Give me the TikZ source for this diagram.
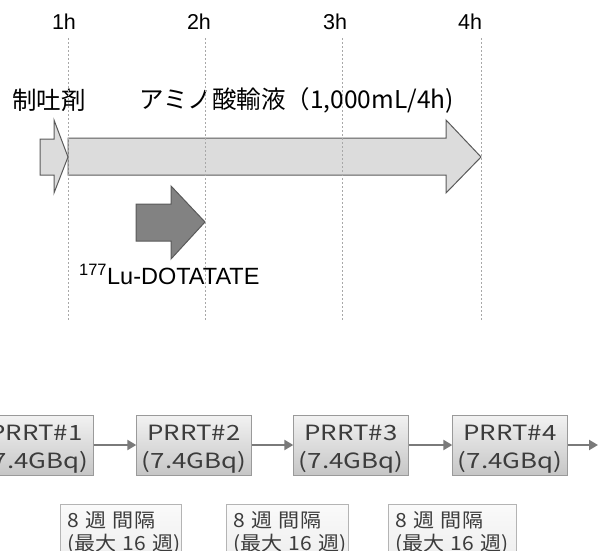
\documentclass[tikz,border=0pt]{standalone}
\usepackage{fontspec}
\setmainfont{Liberation Sans}
\newfontfamily\jp{Noto Sans CJK JP}
\newfontfamily\jpwide[FakeStretch=1.23]{Noto Sans CJK JP}
\newfontfamily\jpweek[FakeStretch=1.08]{Noto Sans CJK JP}
\usetikzlibrary{arrows.meta}
\definecolor{guide}{HTML}{A8A8A8}
\definecolor{lightfill}{HTML}{DCDCDC}
\definecolor{darkfill}{HTML}{828282}
\definecolor{edge}{HTML}{5A5A5A}
\definecolor{boxtop}{HTML}{F2F2F2}
\definecolor{boxbot}{HTML}{C6C6C6}
\definecolor{boxedge}{HTML}{9A9A9A}
\definecolor{weektop}{HTML}{FAFAFA}
\definecolor{weekbot}{HTML}{EEEEEE}
\definecolor{weekedge}{HTML}{B4B4B4}
\definecolor{txt}{HTML}{3C3C3C}
\definecolor{linkcol}{HTML}{7A7A7A}
\newcommand{\toppad}{\rule{0pt}{24pt}}
\begin{document}
\begin{tikzpicture}[x=1pt,y=-1pt,
  hour/.style={font=\fontsize{21.5}{25}\selectfont, inner sep=0pt},
  guideline/.style={guide, line width=0.9pt, dash pattern=on 2pt off 2pt},
  shapeline/.style={draw=edge, line width=1pt, line join=miter},
  jplabel/.style={font=\jp\fontsize{24.5}{29}\selectfont, anchor=west, inner sep=0pt},
  prrt/.style={draw=boxedge, top color=boxtop, bottom color=boxbot, minimum width=115pt, minimum height=60pt, inner sep=0pt, align=center, text=txt, font=\jpwide\fontsize{21}{28}\selectfont},
  weekbox/.style={draw=weekedge, top color=weektop, bottom color=weekbot, minimum height=56pt, inner sep=0pt, anchor=north west},
  weektext/.style={text width=150pt, align=left, inner sep=0pt, anchor=north west, text=txt, font=\jpweek\fontsize{19.5}{23}\selectfont},
  link/.style={linkcol, line width=2.6pt, -{Triangle[length=9pt,width=10pt]}}
]
\useasboundingbox (0,0) rectangle (600,551);
% arrows
\draw[shapeline, fill=lightfill] (40,139) -- (54,139) -- (54,120) -- (68,157) -- (54,193) -- (54,175) -- (40,175) -- cycle;
\draw[shapeline, fill=lightfill] (68,138) -- (446,138) -- (446,120) -- (481,157) -- (446,193) -- (446,175) -- (68,175) -- cycle;
\draw[shapeline, fill=darkfill] (136,204) -- (171,204) -- (171,186) -- (205,222) -- (171,259) -- (171,241) -- (136,241) -- cycle;
% labels
\node[jplabel] (anti) at (12,100) {制吐剤};
\node[jplabel] (amino) at (139,100) {アミノ酸輸液（1,000mL/4h)};
\node[font=\fontsize{23.5}{28}\selectfont, anchor=west, inner sep=0pt] (lu) at (79,274) {\textsuperscript{177}Lu-DOTATATE};
% hours
\node[hour] (h1) at (64,22) {1h};
\node[hour] (h2) at (199,22) {2h};
\node[hour] (h3) at (335,22) {3h};
\node[hour] (h4) at (470,22) {4h};
\coordinate (g1t) at (68,38);  \coordinate (g1b) at (68,320);
\coordinate (g2t) at (205,38); \coordinate (g2b) at (205,320);
\coordinate (g3t) at (342,38); \coordinate (g3b) at (342,320);
\coordinate (g4t) at (481,38); \coordinate (g4b) at (481,320);
\draw[guideline] (g1t) -- (g1b);
\draw[guideline] (g2t) -- (g2b);
\draw[guideline] (g3t) -- (g3b);
\draw[guideline] (g4t) -- (g4b);
% PRRT boxes
\node[prrt] (p1) at (36,445) {\toppad PRRT\#1\\(7.4GBq)};
\node[prrt] (p2) at (194,445) {\toppad PRRT\#2\\(7.4GBq)};
\node[prrt] (p3) at (351,445) {\toppad PRRT\#3\\(7.4GBq)};
\node[prrt] (p4) at (510,445) {\toppad PRRT\#4\\(7.4GBq)};
\coordinate (pend) at (598,445);
\draw[link] (p1) -- (p2);
\draw[link] (p2) -- (p3);
\draw[link] (p3) -- (p4);
\draw[link] (p4.east) -- (pend);
% week boxes
\node[weekbox, minimum width=121pt] (w1) at (60,504) {};
\node[weekbox, minimum width=122pt] (w2) at (226,504) {};
\node[weekbox, minimum width=128pt] (w3) at (388,504) {};
\node[weektext] (w1t) at ([xshift=7pt,yshift=-7pt]w1.north west) {8 週 間隔\\(最大 16 週)};
\node[weektext] (w2t) at ([xshift=7pt,yshift=-7pt]w2.north west) {8 週 間隔\\(最大 16 週)};
\node[weektext] (w3t) at ([xshift=7pt,yshift=-7pt]w3.north west) {8 週 間隔\\(最大 16 週)};
\end{tikzpicture}
\end{document}
